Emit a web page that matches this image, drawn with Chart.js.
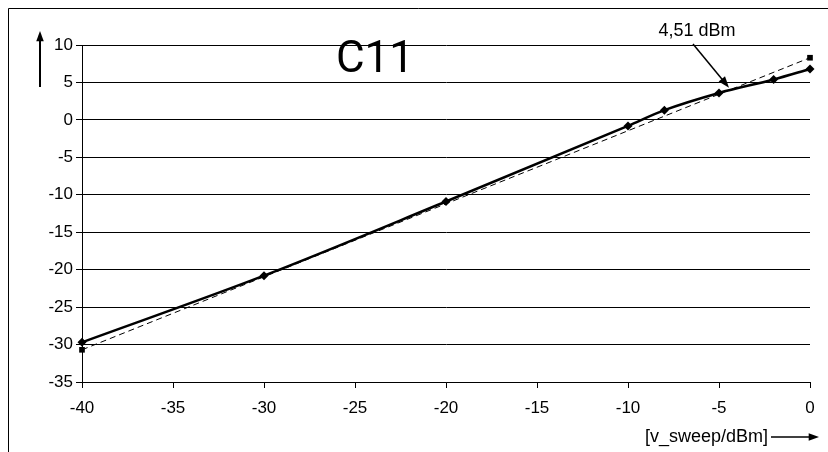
<!DOCTYPE html>
<html>
<head>
<meta charset="utf-8">
<script src="https://cdn.jsdelivr.net/npm/chart.js@4"></script>
<style>
  body { margin: 0; background: #fff; }
  #wrap { width: 828px; height: 452px; }
</style>
</head>
<body>
<div id="wrap"><canvas id="myChart" width="828" height="452"></canvas></div>
<script>
  // measured curve (diamonds)
  const sweepX = [-40, -30, -20, -10, -8, -5, -2, 0];
  const measured = [-29.7, -20.8, -10.9, -0.8, 1.3, 3.6, 5.4, 6.8];
  // ideal reference line (squares at the ends)
  const idealX = [-40, 0];
  const ideal = [-30.7, 8.3];
  const xTicks = [-40, -35, -30, -25, -20, -15, -10, -5, 0];
  const yTicks = [10, 5, 0, -5, -10, -15, -20, -25, -30, -35];
  const markerText = '4,51 dBm';

  const tickFont = { family: 'Liberation Sans, Arial, sans-serif', size: 17 };

  function arrow(ctx, x1, y1, x2, y2, head) {
    const a = Math.atan2(y2 - y1, x2 - x1);
    ctx.beginPath();
    ctx.moveTo(x1, y1);
    ctx.lineTo(x2 - Math.cos(a) * head * 0.8, y2 - Math.sin(a) * head * 0.8);
    ctx.stroke();
    ctx.beginPath();
    ctx.moveTo(x2, y2);
    ctx.lineTo(x2 - head * Math.cos(a - 0.35), y2 - head * Math.sin(a - 0.35));
    ctx.lineTo(x2 - head * Math.cos(a + 0.35), y2 - head * Math.sin(a + 0.35));
    ctx.closePath();
    ctx.fill();
  }

  const decor = {
    id: 'decor',
    beforeDraw(chart) {
      const ctx = chart.ctx;
      ctx.save();
      ctx.fillStyle = '#fff';
      ctx.fillRect(0, 0, chart.width, chart.height);
      ctx.strokeStyle = '#000';
      ctx.lineWidth = 1;
      ctx.beginPath();
      ctx.moveTo(8.5, 452);
      ctx.lineTo(8.5, 8.5);
      ctx.lineTo(828, 8.5);
      ctx.stroke();
      ctx.restore();
    },
    afterDraw(chart) {
      const ctx = chart.ctx;
      const xs = chart.scales.x, ys = chart.scales.y;
      ctx.save();
      ctx.fillStyle = '#000';
      ctx.strokeStyle = '#000';

      // title
      ctx.font = '44px Roboto, sans-serif';
      ctx.textAlign = 'center';
      ctx.textBaseline = 'alphabetic';
      ctx.fillText('C11', 375, 72);

      // y arrow
      ctx.lineWidth = 2;
      arrow(ctx, 40, 87, 40, 31, 11);

      // x axis label + arrow
      ctx.font = '18px Liberation Sans, Arial, sans-serif';
      ctx.textAlign = 'right';
      ctx.textBaseline = 'middle';
      ctx.fillText('[v_sweep/dBm]', 768, 437);
      ctx.lineWidth = 1.5;
      arrow(ctx, 771, 437, 819, 437, 11);

      // annotation
      ctx.textAlign = 'center';
      ctx.textBaseline = 'middle';
      ctx.fillText(markerText, 697, 31);
      ctx.lineWidth = 1.5;
      arrow(ctx, 693, 44, xs.getPixelForValue(-4.45), ys.getPixelForValue(4.3), 12);
      ctx.restore();
    }
  };

  const data = {
    datasets: [
      {
        label: 'ideal',
        data: idealX.map((x, i) => ({ x: x, y: ideal[i] })),
        borderColor: '#000',
        backgroundColor: '#000',
        borderWidth: 1,
        borderDash: [6, 4],
        pointStyle: 'rect',
        pointRadius: 4,
        pointBorderWidth: 0,
        clip: false,
      },
      {
        label: 'measured',
        data: sweepX.map((x, i) => ({ x: x, y: measured[i] })),
        borderColor: '#000',
        backgroundColor: '#000',
        borderWidth: 2.5,
        cubicInterpolationMode: 'monotone',
        pointStyle: 'rectRot',
        pointRadius: 4.5,
        pointBorderWidth: 0,
        clip: false,
      }
    ]
  };

  const config = {
    type: 'scatter',
    data: data,
    options: {
      responsive: false,
      animation: false,
      showLine: true,
      layout: { padding: { left: 0, right: 18, top: 45, bottom: 0 } },
      plugins: { legend: { display: false }, tooltip: { enabled: false } },
      scales: {
        x: {
          type: 'linear',
          min: -40, max: 0,
          afterBuildTicks: (s) => { s.ticks = xTicks.map(v => ({ value: v })); },
          afterFit: (s) => { s.height = 70; },
          border: { color: '#000', width: 1 },
          grid: { drawOnChartArea: false, color: '#000', tickLength: 6 },
          ticks: { color: '#000', font: tickFont, padding: 10, maxRotation: 0 }
        },
        y: {
          min: -35, max: 10,
          afterBuildTicks: (s) => { s.ticks = yTicks.map(v => ({ value: v })); },
          afterFit: (s) => { s.width = 82; },
          border: { color: '#000', width: 1 },
          grid: { color: '#000', tickLength: 6 },
          ticks: { color: '#000', font: tickFont, padding: 3 }
        }
      }
    },
    plugins: [decor]
  };

  const myChart = new Chart(
    document.getElementById('myChart'),
    config
  );
</script>
</body>
</html>
